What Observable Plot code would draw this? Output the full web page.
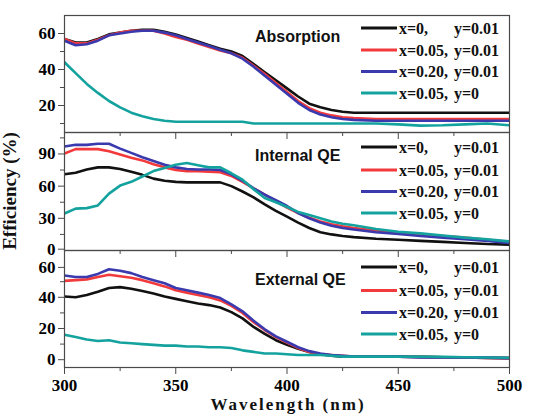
<!DOCTYPE html>
<html>
<head>
<meta charset="utf-8">
<script src="https://cdn.jsdelivr.net/npm/d3@7"></script>
<script src="https://cdn.jsdelivr.net/npm/@observablehq/plot@0.6"></script>
<style>
  html, body { margin: 0; padding: 0; background: white; }
  #chart { position: relative; width: 541px; height: 415px; background: white; overflow: hidden; }
  #chart svg { position: absolute; left: 0; top: 0; }
</style>
</head>
<body>
<div id="chart"></div>
<script>
// ---------- data ----------
const wavelengths = [300,305,310,315,320,325,330,335,340,345,350,355,360,365,370,375,380,385,390,395,400,405,410,415,420,425,430,440,450,460,470,480,490,500];

const seriesNames = ["x=0,      y=0.01", "x=0.05, y=0.01", "x=0.20, y=0.01", "x=0.05, y=0"];
const seriesX = ["x=0,", "x=0.05,", "x=0.20,", "x=0.05,"];
const seriesY = ["y=0.01", "y=0.01", "y=0.01", "y=0"];
const seriesColors = ["#111111", "#f23a3c", "#3a3aae", "#14a29e"];

const panelTitles = ["Absorption", "Internal QE", "External QE"];

// Absorption
const absBlack = [57,55,55,57,59.5,60.5,61.5,62,62,61,59.5,57.5,55.5,53.5,51.5,50,47.5,43,38.5,34,29.5,25,21,19,17.5,16.5,16,16,16,16,16,16,16,16];
const absRed   = [57,54.5,54.5,56.5,59,60.5,61.5,61.5,61.5,60,58,56.5,54.5,52.5,50.5,49,46.5,42,37.5,32.5,27.5,22.5,18.5,16,14.5,13.5,13,12.5,12.5,12.5,12.5,12.5,12.5,12.5];
const absBlue  = [56,53.5,54,56,59,60,61,61.5,61.5,60.5,59,57,55,53,51,49,46,41.5,36.5,31.5,26.5,21.5,17.5,15,13.5,12.5,12,11.5,11.5,11.5,11.5,11.5,11.5,11.5];
const absTeal  = [44,38,32,27,22.5,19,16,14,12.5,11.5,11,11,11,11,11,11,11,10,10,10,10,10,10,10,10,10,10,10,9.5,8.8,9,9.5,10,9];

// Internal QE
const iqeBlack = [71,72.5,75.5,77.5,77.5,76,73.5,70.5,67,65,64,63.5,63.5,63.5,63.5,60,55,49.5,43,37,31.5,26,21,17,15,13.5,12.5,11,10,9,8,7,6,5.5];
const iqeRed   = [90.5,94.5,94.5,94.5,92.5,89.5,86.5,84,80.5,77.5,75,74,74,73.5,73,69.5,64,58,52,46,40,35,30.5,27,24.5,22.5,21,18.5,16.5,15,13.5,12,10,8];
const iqeBlue  = [97,98.5,98.5,99.5,99.5,95,91,87,83.5,80,77.5,76,75.5,75.5,75,71,65,58,52,47,41.5,35,30,26,23,21,19.5,17,15.5,13.5,12,10.5,9,7];
const iqeTeal  = [34.5,39,39.5,42,53,60.5,64,69,74,77,80,81.5,79.5,77.5,77.5,72,66,57,49,45,40.5,36,33,30,27,25,23.5,20,17.5,16,14,12,10.5,8.5];

// External QE
const eqeBlack = [40.5,40,41.5,43.5,46,46.5,45.5,44,42.5,40.5,39,37.5,36,35,33.5,30.5,26.5,21,16.5,12.5,9.5,7,5,3.5,2.5,2,2,2,2,1.8,1.6,1.4,1.2,1];
const eqeRed   = [50.5,51,51.5,53,54.5,53.5,52.5,51,49,47,44.5,43,41.5,40,38,34.5,30,24,19,14.5,11,7.5,5,3.5,3,2.5,2,2,2,1.8,1.6,1.4,1.2,1];
const eqeBlue  = [54,53,53,55,58,57,55.5,53,51,49,46,44.5,43,41.5,39.5,35.5,31,25,19.5,15,11.5,8,5.5,4,3,2.5,2,2,2,1.5,1.5,1.5,1.3,1];
const eqeTeal  = [16,14.5,13,12,12.5,11,10.5,10,9.5,9,9,8.5,8.5,8,8,7.5,6,5,4,4,3.5,3,3,3,2.5,2,2,2,2,2,1.8,1.6,1.4,1.2];

const xMajorTicks = [300,350,400,450,500];
const xMinorTicks = [325,375,425,475];

const absYMajor = [20,40,60], absYMinor = [10,30,50];
const iqeYMajor = [0,30,60,90], iqeYMinor = [15,45,75,105];
const eqeYMajor = [0,20,40,60], eqeYMinor = [10,30,50];

// ---------- build ----------
function toRows(arrays) {
  const rows = [];
  arrays.forEach((arr, si) => arr.forEach((v, i) => rows.push({wl: wavelengths[i], v, series: seriesNames[si]})));
  return rows;
}

const W = 541, H = 415;
const frameTops = [15, 132, 250];
const frameBottoms = [132, 250, 367];
const AX = "#4a4a4a";

function panel(idx, yDomain, yMajor, yMinor, arrays, showXLabels, labelShift) {
  // labelShift: {value: dy} small vertical nudge for a crowded label at a panel edge
  const plain = yMajor.filter(t => !(t in labelShift));
  const shifted = yMajor.filter(t => t in labelShift);
  return Plot.plot({
    width: W, height: H,
    marginLeft: 64, marginRight: 32,
    marginTop: frameTops[idx], marginBottom: H - frameBottoms[idx],
    x: {domain: [300, 500]},
    y: {domain: yDomain},
    color: {domain: seriesNames, range: seriesColors},
    style: {background: "transparent", fontFamily: "'Liberation Serif', 'Times New Roman', serif", fontSize: "17px", fontWeight: "bold", color: "black", overflow: "visible"},
    marks: [
      Plot.line(toRows(arrays), {x: "wl", y: "v", stroke: "series", strokeWidth: 2.6, clip: true}),
      Plot.frame({stroke: AX, strokeWidth: 1.2}),
      Plot.axisX({ticks: xMajorTicks, tickSize: 7, tickPadding: 4, tickFormat: showXLabels ? (d => String(d)) : (() => ""), label: null, stroke: AX}),
      Plot.axisX({ticks: xMinorTicks, tickSize: 4, tickFormat: () => "", label: null, stroke: AX}),
      Plot.axisY({ticks: plain, tickSize: 6, tickPadding: 3, label: null, stroke: AX}),
      ...shifted.map(t => Plot.axisY({ticks: [t], tickSize: 6, tickPadding: 3, label: null, stroke: AX, dy: labelShift[t]})),
      Plot.axisY({ticks: yMinor, tickSize: 4, tickFormat: () => "", label: null, stroke: AX})
    ]
  });
}

const chart = document.getElementById("chart");
chart.appendChild(panel(0, [5, 70], absYMajor, absYMinor, [absBlack, absRed, absBlue, absTeal], false, {}));
chart.appendChild(panel(1, [0, 110], iqeYMajor, iqeYMinor, [iqeBlack, iqeRed, iqeBlue, iqeTeal], false, {0: -1.3}));
chart.appendChild(panel(2, [-5, 70], eqeYMajor, eqeYMinor, [eqeBlack, eqeRed, eqeBlue, eqeTeal], true, {60: 1.3}));

// ---------- overlay: titles, legends, axis labels ----------
const ns = "http://www.w3.org/2000/svg";
const ov = document.createElementNS(ns, "svg");
ov.setAttribute("width", W); ov.setAttribute("height", H);
ov.setAttribute("viewBox", `0 0 ${W} ${H}`);
function el(tag, attrs, text) {
  const e = document.createElementNS(ns, tag);
  for (const k in attrs) e.setAttribute(k, attrs[k]);
  if (text != null) e.textContent = text;
  ov.appendChild(e);
  return e;
}
const titleBaselines = [41.5, 160.5, 285];
panelTitles.forEach((t, i) => el("text", {x: 255, y: titleBaselines[i], "font-family": "'Liberation Sans', Arial, sans-serif", "font-weight": "bold", "font-size": 16, fill: "#111"}, t));

const legendRows = [[28, 50, 71.5, 93], [147, 170, 191.5, 213], [267, 290.5, 312.5, 334]];
legendRows.forEach(rows => rows.forEach((ry, si) => {
  el("line", {x1: 361, x2: 397, y1: ry, y2: ry, stroke: seriesColors[si], "stroke-width": 3});
  const common = {"font-family": "'Liberation Serif', 'Times New Roman', serif", "font-weight": "bold", "font-size": 16, fill: "#111"};
  el("text", {x: 399, y: ry + 5.5, ...common}, seriesX[si]);
  el("text", {x: 454, y: ry + 5.5, ...common}, seriesY[si]);
}));

el("text", {x: 288, y: 410, "text-anchor": "middle", "font-family": "'Liberation Serif', 'Times New Roman', serif", "font-weight": "bold", "font-size": 17, "letter-spacing": 2, fill: "#111"}, "Wavelength (nm)");
el("text", {x: 0, y: 0, transform: "translate(16,191) rotate(-90)", "text-anchor": "middle", "font-family": "'Liberation Serif', 'Times New Roman', serif", "font-weight": "bold", "font-size": 19, fill: "#111"}, "Efficiency (%)");

chart.appendChild(ov);
</script>
</body>
</html>
